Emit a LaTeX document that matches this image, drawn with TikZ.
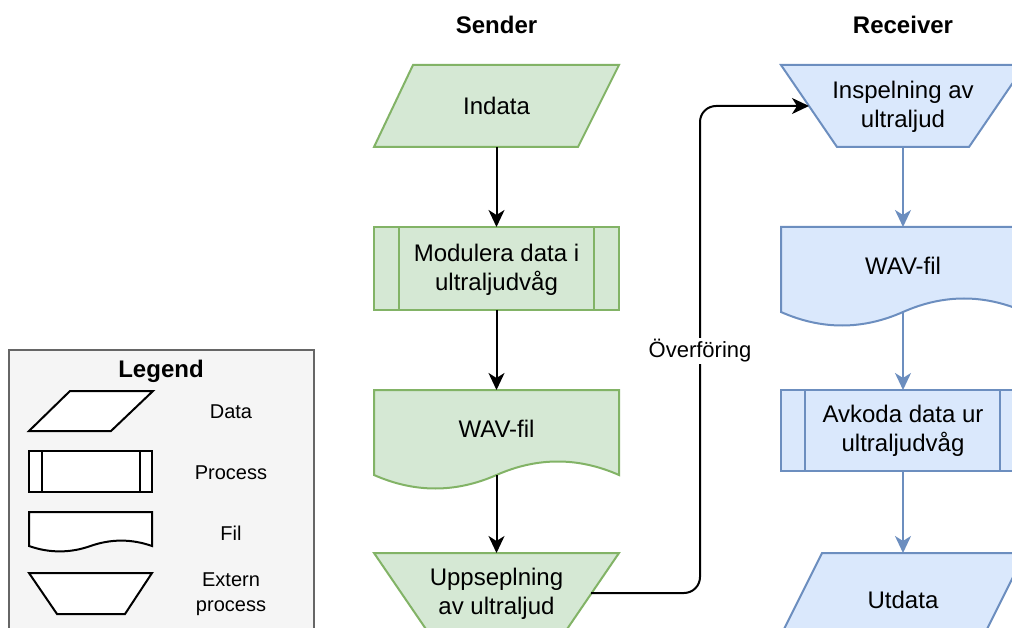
\documentclass[tikz,border=0pt]{standalone}
\usepackage{fontspec}
\setmainfont{Liberation Sans}
\usetikzlibrary{arrows.meta}
\definecolor{gfill}{HTML}{D5E8D4}
\definecolor{gline}{HTML}{82B366}
\definecolor{bfill}{HTML}{DAE8FC}
\definecolor{bline}{HTML}{6C8EBF}
\definecolor{lfill}{HTML}{F5F5F5}
\definecolor{lline}{HTML}{666666}
% document (file) shape: #1 style, #2 x, #3 y, #4 w, #5 h
\newcommand{\docpath}[5]{%
  \path[#1] (#2,#3) -- ({#2+#4},#3) -- ({#2+#4},{#3+0.85*#5})
    .. controls ({#2+#4-#4/6},{#3+0.67*#5}) and ({#2+#4/2+#4/6},{#3+0.67*#5}) .. ({#2+#4/2},{#3+0.85*#5})
    .. controls ({#2+#4/3},{#3+1.03*#5}) and ({#2+#4/6},{#3+1.03*#5}) .. (#2,{#3+0.85*#5}) -- cycle;}
\begin{document}
\begin{tikzpicture}[x=1pt,y=-1pt,
  gshape/.style={draw=gline,fill=gfill,line width=2pt,line join=miter},
  bshape/.style={draw=bline,fill=bfill,line width=2pt,line join=miter},
  lshape/.style={draw=black,fill=white,line width=2pt,line join=miter},
  txt/.style={inner sep=0pt,align=center,font=\fontsize{24}{28.5}\selectfont},
  ltxt/.style={inner sep=0pt,align=center,font=\fontsize{20}{24.5}\selectfont},
  ttl/.style={inner sep=0pt,font=\bfseries\fontsize{24}{28}\selectfont},
  arr/.style={draw=black,line width=2pt,-{Stealth[length=17pt,width=16pt,inset=5pt]}},
  barr/.style={draw=bline,line width=2pt,-{Stealth[length=17pt,width=16pt,inset=5pt]}}]
\useasboundingbox (0,0) rectangle (1012,628);
\clip (0,0) rectangle (1012,628);

% ---------- Legend ----------
\path[draw=lline,fill=lfill,line width=2pt] (9,350) rectangle (314,650);
\node[ttl] (legtitle) at (161,371) {Legend};
\path[lshape] (70,391) -- (153,391) -- (111,431) -- (29,431) -- cycle;
\node[ltxt] (legdata) at (231,412) {Data};
\path[lshape] (29,451) rectangle (152,492);
\path[lshape] (41.5,451) -- (41.5,492) (139.5,451) -- (139.5,492);
\node[ltxt] (legproc) at (231,473) {Process};
\docpath{lshape}{29}{512}{123}{40}
\node[ltxt] (legfil) at (231,533) {Fil};
\path[lshape] (29,573) -- (152,573) -- (125,614) -- (57,614) -- cycle;
\node[ltxt] (legext) at (231,594) {Extern\\process};

% ---------- Titles ----------
\node[ttl] (tsender) at (496.5,25) {Sender};
\node[ttl] (treceiver) at (903,25) {Receiver};

% ---------- Sender ----------
\path[gshape] (413,65) -- (619,65) -- (578,147) -- (374,147) -- cycle;
\node[txt] (indata) at (496.5,106) {Indata};
\path[gshape] (374,227) rectangle (619,310);
\path[gshape] (399,227) -- (399,310) (594,227) -- (594,310);
\node[txt] (modulera) at (496.5,270) {Modulera data i\\ultraljudvåg};
\docpath{gshape}{374}{390}{245}{100}
\node[txt] (wavs) at (496.5,429) {WAV-fil};
\path[gshape] (374,553) -- (619,553) -- (563,635) -- (430,635) -- cycle;
\node[txt] (upps) at (496.5,594) {Uppseplning\\av ultraljud};

\coordinate (indata-b) at (496.5,147);
\coordinate (modulera-t) at (496.5,227);
\coordinate (modulera-b) at (496.5,310);
\coordinate (wavs-t) at (496.5,390);
\coordinate (wavs-b) at (496.5,475);
\coordinate (upps-t) at (496.5,553);
\coordinate (upps-r) at (591,593);

\draw[arr] (indata-b) -- (modulera-t);
\draw[arr] (modulera-b) -- (wavs-t);
\draw[arr] (wavs-b) -- (upps-t);

% ---------- Receiver ----------
\path[bshape] (781,65) -- (1025,65) -- (969,147) -- (837,147) -- cycle;
\node[txt] (insp) at (903,107) {Inspelning av\\ultraljud};
\docpath{bshape}{781}{227}{244}{100}
\node[txt] (wavr) at (903,266) {WAV-fil};
\path[bshape] (781,390) rectangle (1025,471);
\path[bshape] (805,390) -- (805,471) (1000,390) -- (1000,471);
\node[txt] (avkoda) at (903,431) {Avkoda data ur\\ultraljudvåg};
\path[bshape] (822,553) -- (1025,553) -- (984,635) -- (781,635) -- cycle;
\node[txt] (utdata) at (903,600) {Utdata};

\coordinate (insp-l) at (809,106);
\coordinate (insp-b) at (903,147);
\coordinate (wavr-t) at (903,227);
\coordinate (wavr-b) at (903,312);
\coordinate (avkoda-t) at (903,390);
\coordinate (avkoda-b) at (903,471);
\coordinate (utdata-t) at (903,553);

\draw[barr] (insp-b) -- (wavr-t);
\draw[barr] (wavr-b) -- (avkoda-t);
\draw[barr] (avkoda-b) -- (utdata-t);

% ---------- Transfer ----------
\coordinate (bend1) at (700,593);
\coordinate (bend2) at (700,106);
\draw[arr,rounded corners=16pt] (upps-r) -- (bend1) -- (bend2) -- (insp-l);
\node[inner sep=2pt,fill=white,font=\fontsize{22}{26}\selectfont] (transfer) at (700,351) {Överföring};
\end{tikzpicture}
\end{document}
